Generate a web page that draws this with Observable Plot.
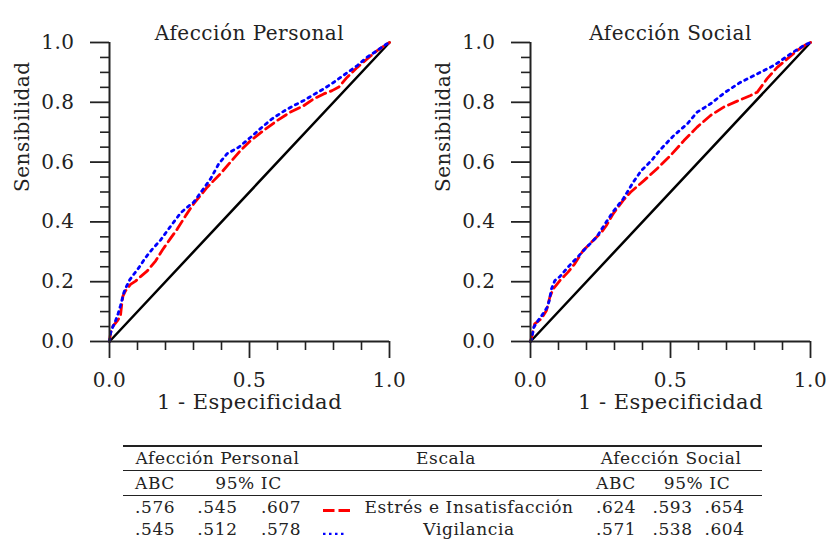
<!DOCTYPE html>
<html>
<head>
<meta charset="utf-8">
<script src="https://cdn.jsdelivr.net/npm/d3@7"></script>
<script src="https://cdn.jsdelivr.net/npm/@observablehq/plot@0.6"></script>
<style>
html, body { margin: 0; padding: 0; background: #fff; }
body { width: 826px; height: 539px; position: relative; overflow: hidden;
       font-family: "DejaVu Serif", "Liberation Serif", "Times New Roman", serif; color: #222; }
#p1 { position: absolute; left: 0; top: 0; width: 421px; height: 425px; }
#p2 { position: absolute; left: 421px; top: 0; width: 405px; height: 425px; }
#p1 svg text, #p2 svg text { letter-spacing: 0.5px; }
g[aria-label="ylabel"] text { letter-spacing: 0px !important; }
#tbl { position: absolute; left: 123px; top: 445px; border-collapse: collapse;
       table-layout: fixed; width: 639px; font-size: 17px; letter-spacing: 0.6px; }
#tbl td { padding: 0; white-space: nowrap; vertical-align: middle; }
#tbl tr.h1 { border-top: 2.5px solid #222; height: 23px; line-height: 23px; }
#tbl tr.h2 { border-top: 1px solid #222; height: 24px; line-height: 24px; }
#tbl tr.d1 { border-top: 1.4px solid #222; height: 22px; line-height: 22px; }
#tbl tr.d2 { height: 22px; line-height: 22px; }
#tbl .c { text-align: center; }
#tbl .l1 { text-align: left; padding-left: 12px; }
#tbl .l6 { text-align: left; padding-left: 16px; }
#tbl .r8 { padding-right: 13px; }
#tbl .lg { text-align: left; padding-left: 11px; }
#tbl .lg svg { vertical-align: baseline; }
</style>
</head>
<body>
<div id="p1"></div>
<div id="p2"></div>
<div id="tw"></div>
<script>
// ---------- data ----------
const panelTitles = ["Afección Personal", "Afección Social"];
const xAxisLabel = "1 - Especificidad";
const yAxisLabel = "Sensibilidad";

const xMajorTicks = [0, 0.5, 1];
const xMinorTicks = [0.1, 0.2, 0.3, 0.4, 0.6, 0.7, 0.8, 0.9];
const yMajorTicks = [0, 0.2, 0.4, 0.6, 0.8, 1];
const yMinorTicks = [0.05, 0.1, 0.15, 0.25, 0.3, 0.35, 0.45, 0.5, 0.55, 0.65, 0.7, 0.75, 0.85, 0.9, 0.95];
const chanceLine = [0, 1];

// Afección Personal — Estrés e Insatisfacción (red dashed)
const personalEstresFpr = [0, 0.004, 0.012, 0.027, 0.039, 0.043, 0.048, 0.057, 0.075, 0.093, 0.111, 0.135, 0.165, 0.189, 0.218, 0.242, 0.272, 0.301, 0.349, 0.396, 0.432, 0.468, 0.504, 0.551, 0.599, 0.646, 0.694, 0.730, 0.765, 0.795, 0.819, 0.849, 0.885, 0.920, 0.956, 1];
const personalEstresTpr = [0, 0.029, 0.051, 0.068, 0.085, 0.119, 0.152, 0.169, 0.191, 0.202, 0.217, 0.236, 0.270, 0.306, 0.345, 0.376, 0.421, 0.461, 0.516, 0.561, 0.600, 0.639, 0.672, 0.706, 0.739, 0.767, 0.789, 0.812, 0.828, 0.839, 0.851, 0.884, 0.917, 0.945, 0.973, 1];

// Afección Personal — Vigilancia (blue dotted)
const personalVigilFpr = [0, 0.004, 0.012, 0.021, 0.031, 0.039, 0.045, 0.051, 0.060, 0.072, 0.087, 0.105, 0.129, 0.153, 0.183, 0.206, 0.230, 0.254, 0.284, 0.301, 0.331, 0.361, 0.390, 0.420, 0.462, 0.504, 0.545, 0.581, 0.617, 0.658, 0.694, 0.730, 0.765, 0.801, 0.843, 0.885, 0.920, 0.956, 0.986, 1];
const personalVigilTpr = [0, 0.029, 0.049, 0.068, 0.094, 0.119, 0.141, 0.163, 0.183, 0.206, 0.225, 0.247, 0.281, 0.309, 0.340, 0.370, 0.400, 0.430, 0.454, 0.466, 0.505, 0.544, 0.594, 0.628, 0.650, 0.683, 0.717, 0.745, 0.767, 0.789, 0.806, 0.826, 0.845, 0.867, 0.895, 0.923, 0.951, 0.973, 0.993, 1];

// Afección Social — Estrés e Insatisfacción (red dashed)
const socialEstresFpr = [0, 0.004, 0.015, 0.039, 0.057, 0.069, 0.081, 0.105, 0.134, 0.158, 0.188, 0.224, 0.254, 0.271, 0.295, 0.331, 0.357, 0.405, 0.452, 0.5, 0.548, 0.595, 0.643, 0.690, 0.738, 0.786, 0.810, 0.845, 0.881, 0.917, 0.952, 0.988, 1];
const socialEstresTpr = [0, 0.014, 0.059, 0.076, 0.104, 0.148, 0.176, 0.204, 0.232, 0.260, 0.304, 0.338, 0.366, 0.388, 0.427, 0.472, 0.499, 0.538, 0.578, 0.622, 0.672, 0.717, 0.756, 0.784, 0.804, 0.823, 0.834, 0.879, 0.917, 0.945, 0.973, 0.996, 1];

// Afección Social — Vigilancia (blue dotted)
const socialVigilFpr = [0, 0.004, 0.012, 0.027, 0.045, 0.060, 0.067, 0.075, 0.087, 0.105, 0.134, 0.170, 0.2, 0.236, 0.268, 0.298, 0.331, 0.367, 0.396, 0.432, 0.464, 0.512, 0.560, 0.595, 0.643, 0.696, 0.75, 0.810, 0.869, 0.929, 0.976, 1];
const socialVigilTpr = [0, 0.009, 0.048, 0.070, 0.093, 0.115, 0.137, 0.176, 0.204, 0.217, 0.249, 0.284, 0.315, 0.349, 0.396, 0.438, 0.477, 0.533, 0.572, 0.605, 0.642, 0.689, 0.728, 0.767, 0.795, 0.834, 0.867, 0.895, 0.923, 0.962, 0.99, 1];

// Table
const tableGroups = ["Afección Personal", "Escala", "Afección Social"];
const tableSubheads = ["ABC", "95% IC"];
const scaleNames = ["Estrés e Insatisfacción", "Vigilancia"];
const personalABC = [".576", ".545"];
const personalLow = [".545", ".512"];
const personalHigh = [".607", ".578"];
const socialABC = [".624", ".571"];
const socialLow = [".593", ".538"];
const socialHigh = [".654", ".604"];
const seriesColors = ["#ff0000", "#0000ff"];

// ---------- chart ----------
const toRows = (fpr, tpr) => fpr.map((f, i) => ({fpr: f, tpr: tpr[i]}));
const fmt = d3.format(".1f");
const serifStack = '"DejaVu Serif", "Liberation Serif", "Times New Roman", serif';

function panel(title, estres, vigil, width, marginRight) {
  return Plot.plot({
    width, height: 425,
    marginLeft: 109, marginRight, marginTop: 42, marginBottom: 84,
    x: {domain: [0, 1], label: null},
    y: {domain: [0, 1], label: null},
    style: {fontFamily: serifStack, fontSize: "20px", color: "#222", background: "white", overflow: "visible"},
    marks: [
      Plot.line(chanceLine, {x: d => d, y: d => d, stroke: "#000", strokeWidth: 2.5}),
      Plot.line(estres, {x: "fpr", y: "tpr", stroke: seriesColors[0], strokeWidth: 2.8, strokeDasharray: "10,5"}),
      Plot.line(vigil, {x: "fpr", y: "tpr", stroke: seriesColors[1], strokeWidth: 2.8, strokeDasharray: "2.6,4.6"}),
      Plot.ruleX([0], {stroke: "#222", strokeWidth: 2}),
      Plot.ruleY([0], {stroke: "#222", strokeWidth: 2}),
      Plot.axisX(xMajorTicks, {tickSize: 17, tickPadding: 14, tickFormat: fmt, strokeWidth: 1.8, label: null}),
      Plot.axisX(xMinorTicks, {tickSize: 9, tickFormat: () => "", strokeWidth: 1.6, label: null}),
      Plot.axisY(yMajorTicks, {tickSize: 19, tickPadding: 16, tickFormat: fmt, strokeWidth: 1.8, label: null}),
      Plot.axisY(yMinorTicks, {tickSize: 9, tickFormat: () => "", strokeWidth: 1.6, label: null}),
      Plot.text([title], {text: d => d, frameAnchor: "top", dy: -17, fontSize: 20}),
      Plot.text([xAxisLabel], {text: d => d, frameAnchor: "bottom", dy: 67, fontSize: 21}),
      Plot.text([yAxisLabel], {text: d => d, frameAnchor: "left", dx: -87, rotate: -90, fontSize: 20, ariaLabel: "ylabel"})
    ]
  });
}

document.getElementById("p1").append(
  panel(panelTitles[0], toRows(personalEstresFpr, personalEstresTpr), toRows(personalVigilFpr, personalVigilTpr), 421, 32));
document.getElementById("p2").append(
  panel(panelTitles[1], toRows(socialEstresFpr, socialEstresTpr), toRows(socialVigilFpr, socialVigilTpr), 405, 16));

// ---------- table ----------
const legendSample = (i) => i === 0
  ? `<svg width="28" height="10"><line x1="0" y1="7.5" x2="28" y2="7.5" stroke="${seriesColors[0]}" stroke-width="2.8" stroke-dasharray="11.5,4"/></svg>`
  : `<svg width="22" height="10"><line x1="0" y1="9" x2="22" y2="9" stroke="${seriesColors[1]}" stroke-width="2.6" stroke-dasharray="2.5,3.5"/></svg>`;

let html = `<table id="tbl"><colgroup>
<col style="width:62px"><col style="width:65px"><col style="width:62px"><col style="width:46px">
<col style="width:222px"><col style="width:65px"><col style="width:55px"><col style="width:62px"></colgroup>`;
html += `<tr class="h1"><td colspan="3" class="c">${tableGroups[0]}</td><td colspan="2" class="c">${tableGroups[1]}</td><td colspan="3" class="c">${tableGroups[2]}</td></tr>`;
html += `<tr class="h2"><td class="l1">${tableSubheads[0]}</td><td colspan="2" class="c">${tableSubheads[1]}</td><td colspan="2"></td><td class="l6">${tableSubheads[0]}</td><td colspan="2" class="c r8">${tableSubheads[1]}</td></tr>`;
scaleNames.forEach((name, i) => {
  html += `<tr class="d${i + 1}"><td class="l1">${personalABC[i]}</td><td class="c">${personalLow[i]}</td><td class="c">${personalHigh[i]}</td>` +
    `<td class="lg">${legendSample(i)}</td><td class="c">${name}</td>` +
    `<td class="l6">${socialABC[i]}</td><td class="c">${socialLow[i]}</td><td class="c r8">${socialHigh[i]}</td></tr>`;
});
html += `</table>`;
document.getElementById("tw").innerHTML = html;
</script>
</body>
</html>
